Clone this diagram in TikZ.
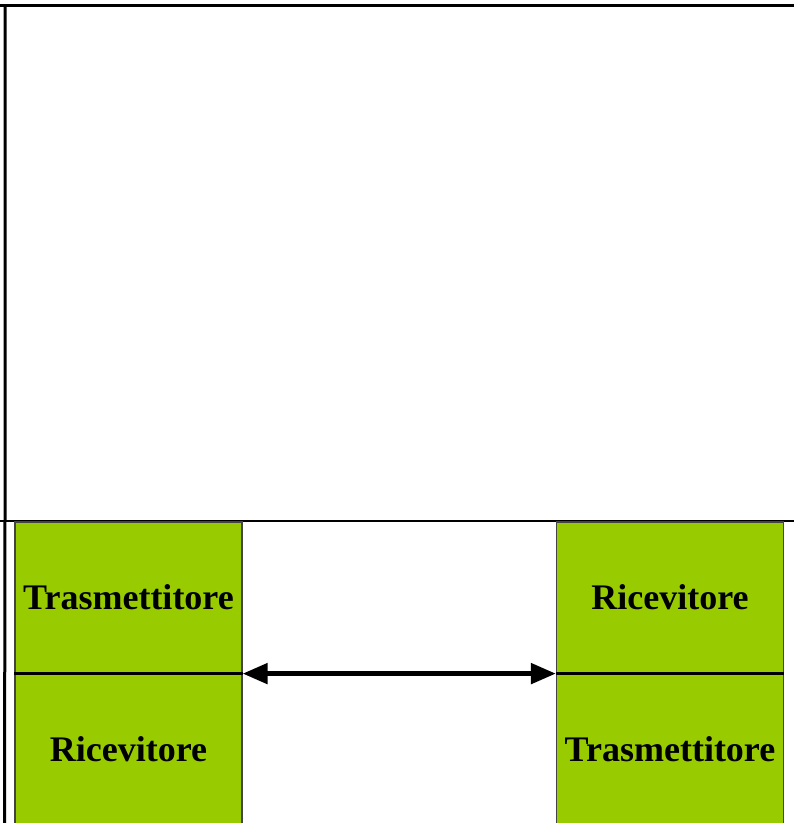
\documentclass[tikz,border=0pt]{standalone}
\usepackage{fontspec}
\setmainfont{Liberation Serif}
\usetikzlibrary{arrows.meta}
\definecolor{boxgreen}{HTML}{99CC00}
\definecolor{boxedge}{HTML}{444444}
\tikzset{
  x=1pt, y=-1pt,
  gbox/.style={rectangle, fill=boxgreen, draw=boxedge, line width=1.2pt,
    minimum width=227pt, minimum height=151pt, inner sep=0pt,
    font=\fontsize{36}{40}\selectfont\bfseries},
  frame/.style={line width=3pt, black},
  divider/.style={line width=2.5pt, black},
  link/.style={line width=5pt, black, {Triangle[length=25pt,width=20pt]}-{Triangle[length=25pt,width=20pt]}}
}
\begin{document}
\begin{tikzpicture}
\useasboundingbox (0,0) rectangle (794,823);
\clip (0,0) rectangle (794,823);
\fill[white] (0,0) rectangle (794,823);
% frame lines
\coordinate (tl) at (0,5);
\coordinate (tr) at (794,5);
\coordinate (vt) at (5,5);
\coordinate (vb) at (4.5,823);
\coordinate (ml) at (0,521);
\coordinate (mr) at (794,521);
\draw[frame] (tl) -- (tr);
\draw[frame] (vt) -- (5,521) -- (vb);
\draw[divider] (ml) -- (mr);
% boxes
\node[gbox] (LT) at (128.5,597.5) {Trasmettitore};
\node[gbox, minimum height=152pt] (LB) at (128.5,749) {Ricevitore};
\node[gbox] (RT) at (670,597.5) {Ricevitore};
\node[gbox, minimum height=152pt] (RB) at (670,749) {Trasmettitore};
\draw[divider] (LT.south west) -- (LT.south east);
\draw[divider] (RT.south west) -- (RT.south east);
% link
\draw[link] (LT.south east) -- (RT.south west);
\end{tikzpicture}
\end{document}
